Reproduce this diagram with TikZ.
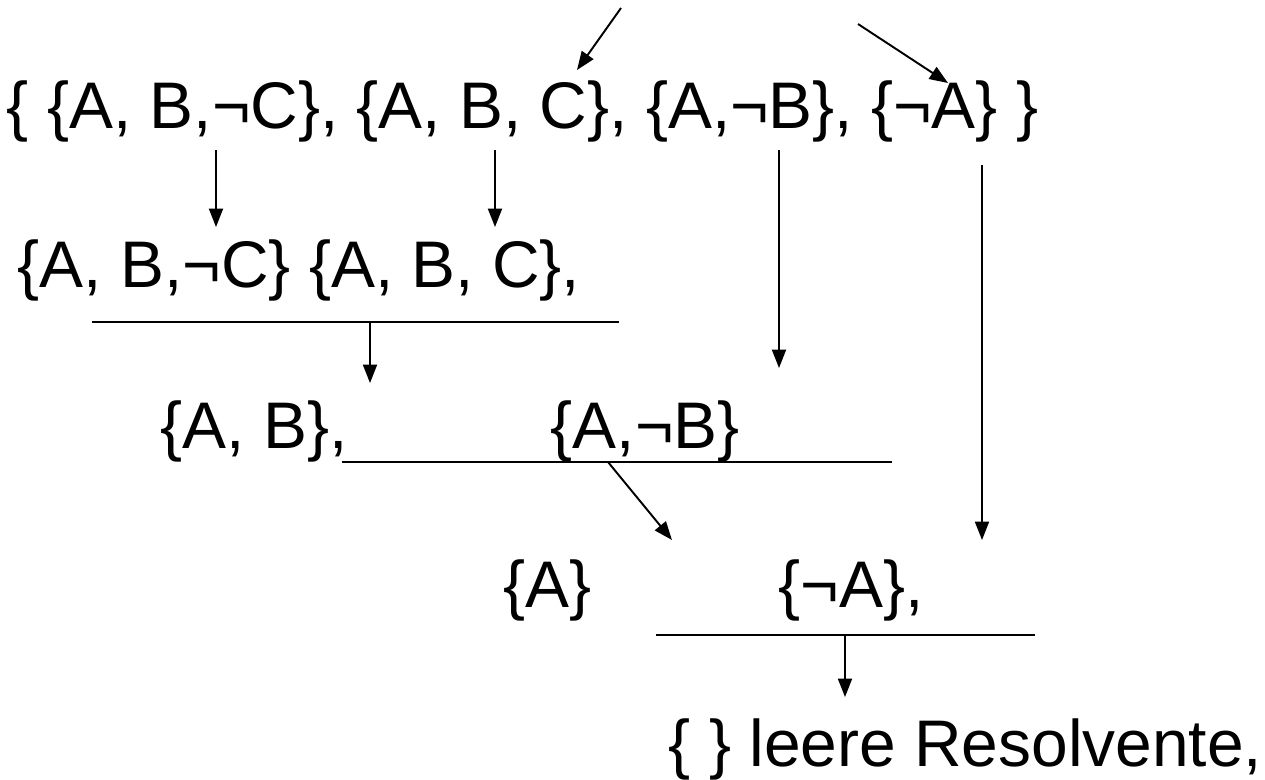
\documentclass[tikz,border=0pt]{standalone}
\usepackage{fontspec}
\setmainfont{Liberation Sans}
\usetikzlibrary{arrows.meta}

\begin{document}
\begin{tikzpicture}[x=0.02cm,y=-0.02cm,line width=1.1pt]
        \tikzstyle{every node}=[inner sep=0pt,anchor=base west,font=\fontsize{37.5}{44}\selectfont]
        \tikzstyle{resarrow}=[-{Triangle[length=10.5pt,width=8pt]}]
        \tikzstyle{cut}=[line width=1.2pt]
        \useasboundingbox (0,0) rectangle (1265,779);
        % Klauselmenge und Resolutionsschritte
        \node (row1) at (6,128) {\{ \{A, B,¬C\}, \{A, B, C\}, \{A,¬B\}, \{¬A\} \}};
        \node (row2) at (17,287) {\{A, B,¬C\} \{A, B, C\},};
        \node (resAB) at (160,448) {\{A, B\},};
        \node (clAnB) at (550,448) {\{A,¬B\}};
        \node (resA) at (503,607) {\{A\}};
        \node (clnA) at (778,607) {\{¬A\},};
        \node (empty) at (668,766) {\{ \} leere Resolvente,};
        % Pfeilenden
        \coordinate (in1) at (621,8);   \coordinate (in1t) at (577,70);
        \coordinate (in2) at (858,24);  \coordinate (in2t) at (948,83);
        \coordinate (c1) at (216,150);  \coordinate (c1t) at (216,227);
        \coordinate (c2) at (495,150);  \coordinate (c2t) at (495,227);
        \coordinate (c3) at (779,150);  \coordinate (c3t) at (779,368);
        \coordinate (c4) at (982,165);  \coordinate (c4t) at (982,540);
        \coordinate (cut1l) at (92,322);  \coordinate (cut1r) at (619,322);
        \coordinate (cut2l) at (342,462); \coordinate (cut2r) at (892,462);
        \coordinate (cut3l) at (656,635); \coordinate (cut3r) at (1035,635);
        \coordinate (d1) at (370,322);  \coordinate (d1t) at (370,383);
        \coordinate (d2) at (608,462);  \coordinate (d2t) at (672,540);
        \coordinate (d3) at (845,635);  \coordinate (d3t) at (845,697);
        \draw[resarrow] (in1) -- (in1t);
        \draw[resarrow] (in2) -- (in2t);
        \draw[resarrow] (c1) -- (c1t);
        \draw[resarrow] (c2) -- (c2t);
        \draw[resarrow] (c3) -- (c3t);
        \draw[resarrow] (c4) -- (c4t);
        \draw[cut] (cut1l) -- (cut1r);
        \draw[cut] (cut2l) -- (cut2r);
        \draw[cut] (cut3l) -- (cut3r);
        \draw[resarrow] (d1) -- (d1t);
        \draw[resarrow] (d2) -- (d2t);
        \draw[resarrow] (d3) -- (d3t);
\end{tikzpicture}
\end{document}
